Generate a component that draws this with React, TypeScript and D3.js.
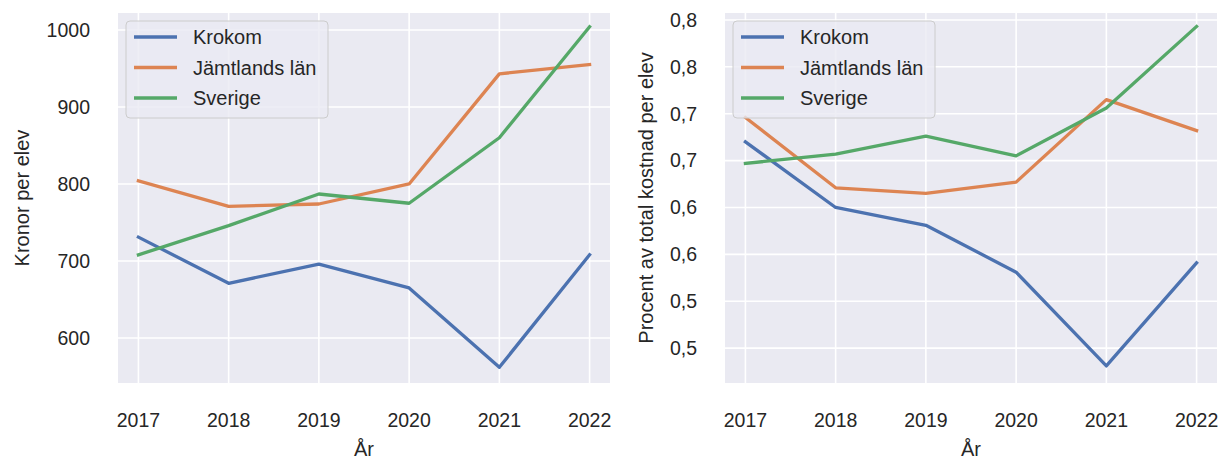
import React from "react";
import * as d3 from "d3";

const years = [2017, 2018, 2019, 2020, 2021, 2022];
const seriesNames = ["Krokom", "Jämtlands län", "Sverige"];
const colors = ["#4C72B0", "#DD8452", "#55A868"];

const kronorKrokom = [731, 671, 696, 665, 562, 708];
const kronorJamtland = [804, 771, 774, 800, 943, 955];
const kronorSverige = [708, 746, 787, 775, 860, 1004];
const kronorTicks = [600, 700, 800, 900, 1000];

const procentKrokom = [0.670, 0.600, 0.581, 0.531, 0.431, 0.541];
const procentJamtland = [0.696, 0.621, 0.615, 0.627, 0.715, 0.682];
const procentSverige = [0.647, 0.657, 0.676, 0.655, 0.706, 0.793];
const procentTicks = [0.45, 0.5, 0.55, 0.6, 0.65, 0.7, 0.75, 0.8];

const FONT = "'Liberation Sans', Arial, sans-serif";
const TXT = "#262626";

type PanelProps = {
  x0: number;
  x1: number;
  yDomain: [number, number];
  ticks: number[];
  fmt: (v: number) => string;
  series: number[][];
  ylabel: string;
  ylabelX: number;
};

function Panel({ x0, x1, yDomain, ticks, fmt, series, ylabel, ylabelX }: PanelProps) {
  const top = 13;
  const bottom = 383;
  const pad = (x1 - x0) * 0.0415;
  const x = d3.scaleLinear().domain([years[0], years[years.length - 1]]).range([x0 + pad, x1 - pad]);
  const y = d3.scaleLinear().domain(yDomain).range([bottom, top]);
  const line = d3
    .line<number>()
    .x((_, i) => x(years[i]))
    .y((d) => y(d));
  return (
    <g>
      <rect x={x0} y={top} width={x1 - x0} height={bottom - top} fill="#EAEAF2" />
      {ticks.map((t) => (
        <line key={"h" + t} x1={x0} x2={x1} y1={y(t)} y2={y(t)} stroke="#fff" strokeWidth={1.6} />
      ))}
      {years.map((yr) => (
        <line key={"v" + yr} x1={x(yr)} x2={x(yr)} y1={top} y2={bottom} stroke="#fff" strokeWidth={1.6} />
      ))}
      {series.map((s, i) => (
        <path key={i} d={line(s) || ""} fill="none" stroke={colors[i]} strokeWidth={3.3} strokeLinejoin="round" strokeLinecap="square" />
      ))}
      {ticks.map((t) => (
        <text key={"tl" + t} x={x0 - 28} y={y(t)} dy="0.35em" textAnchor="end" fontSize={19.5} fill={TXT} fontFamily={FONT}>
          {fmt(t)}
        </text>
      ))}
      {years.map((yr) => (
        <text key={"xl" + yr} x={x(yr)} y={427} textAnchor="middle" fontSize={19.5} fill={TXT} fontFamily={FONT}>
          {yr}
        </text>
      ))}
      <text x={(x0 + x1) / 2} y={456} textAnchor="middle" fontSize={20} fill={TXT} fontFamily={FONT}>
        År
      </text>
      <text
        transform={`translate(${ylabelX},${(top + bottom) / 2}) rotate(-90)`}
        textAnchor="middle"
        dy="0.35em"
        fontSize={20}
        fill={TXT}
        fontFamily={FONT}
      >
        {ylabel}
      </text>
      <g transform={`translate(${x0 + 8},21)`}>
        <rect x={0} y={0} width={202} height={97} rx={4} fill="#EAEAF2" fillOpacity={0.8} stroke="#CCCCCC" strokeWidth={1} />
        {seriesNames.map((n, i) => (
          <g key={n} transform={`translate(0,${16 + i * 30.5})`}>
            <line x1={8} x2={51} y1={0} y2={0} stroke={colors[i]} strokeWidth={3.3} />
            <text x={67} y={0} dy="0.35em" fontSize={20} fill={TXT} fontFamily={FONT}>
              {n}
            </text>
          </g>
        ))}
      </g>
    </g>
  );
}

export default function App() {
  const fmtK = (v: number) => String(v);
  const fmtP = (v: number) => (Math.round(v * 10 + 1e-9) / 10).toFixed(1).replace(".", ",");
  return (
    <svg width={1221} height={459} style={{ display: "block", position: "absolute", left: 0, top: 0 }}>
      <rect width={1221} height={459} fill="#fff" />
      <Panel
        x0={118}
        x1={610}
        yDomain={[541.6, 1022]}
        ticks={kronorTicks}
        fmt={fmtK}
        series={[kronorKrokom, kronorJamtland, kronorSverige]}
        ylabel="Kronor per elev"
        ylabelX={22}
      />
      <Panel
        x0={725}
        x1={1217}
        yDomain={[0.4128, 0.8074]}
        ticks={procentTicks}
        fmt={fmtP}
        series={[procentKrokom, procentJamtland, procentSverige]}
        ylabel="Procent av total kostnad per elev"
        ylabelX={646}
      />
    </svg>
  );
}
